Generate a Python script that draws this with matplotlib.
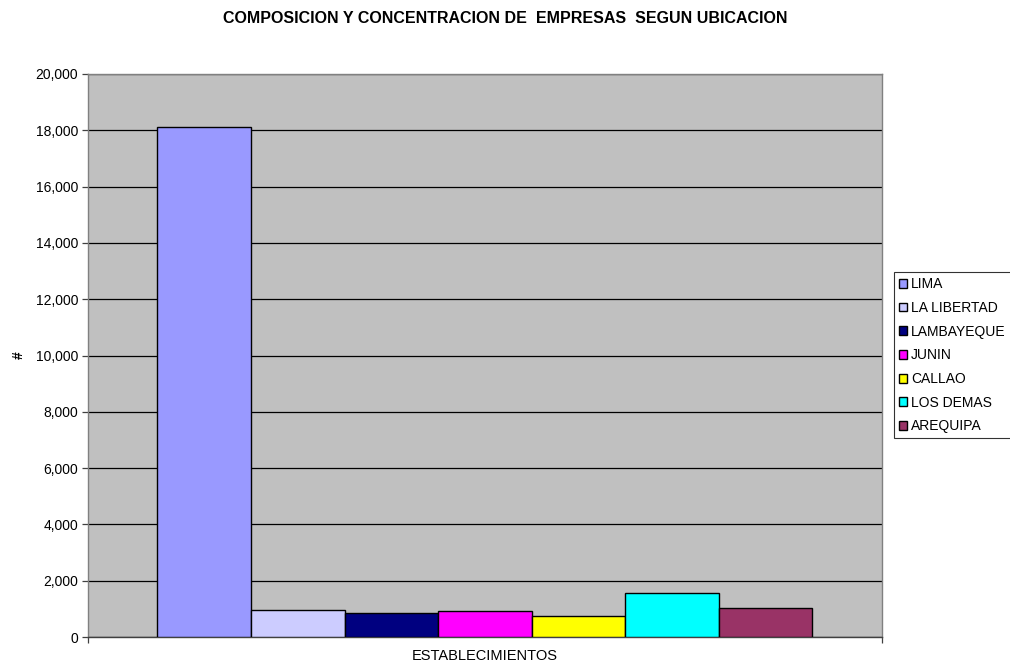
import numpy as np
import matplotlib.pyplot as plt
from matplotlib.ticker import FuncFormatter

plt.rcParams['font.family'] = ['Liberation Sans', 'DejaVu Sans']

regions = ["LIMA", "LA LIBERTAD", "LAMBAYEQUE", "JUNIN", "CALLAO", "LOS DEMAS", "AREQUIPA"]
counts = [18100, 950, 870, 920, 740, 1550, 1035]
colors = ["#9999ff", "#ccccff", "#000080", "#ff00ff", "#ffff00", "#00ffff", "#993366"]
category = "ESTABLECIMIENTOS"

fig = plt.figure(figsize=(10.1, 6.69), dpi=100)
ax = fig.add_axes([0.0871, 0.0478, 0.7861, 0.8416])
ax.set_facecolor("#c0c0c0")

group = 0.825
w = group / len(regions)
x0 = -group / 2 + w / 2
for i, (name, val, c) in enumerate(zip(regions, counts, colors)):
    ax.bar(x0 + i * w, val, width=w, color=c, edgecolor="black", linewidth=1.0,
           label=name, zorder=3)

ax.set_xlim(-0.5, 0.5)
ax.set_ylim(0, 20000)
ax.set_yticks(np.arange(0, 20001, 2000))
ax.yaxis.set_major_formatter(FuncFormatter(lambda v, p: f"{int(v):,}"))
ax.grid(axis="y", color="black", linewidth=0.9, zorder=1)
ax.set_xticks([-0.5, 0.5])
ax.set_xticklabels(["", ""])
ax.text(0, -0.022, category, transform=ax.get_xaxis_transform(), ha="center", va="top", fontsize=10.5)
ax.tick_params(axis="both", labelsize=10, length=4, width=0.9, color="#404040", pad=3)
for s in ax.spines.values():
    s.set_color("#808080")
    s.set_linewidth(1.0)
ax.spines["bottom"].set_color("#404040")
ax.set_ylabel("#", fontsize=10, fontweight="bold", rotation=90, labelpad=7)

fig.text(0.5, 0.972, "COMPOSICION Y CONCENTRACION DE  EMPRESAS  SEGUN UBICACION",
         ha="center", va="center", fontsize=11.5, fontweight="bold")

leg = fig.legend(loc="upper left", bbox_to_anchor=(0.885, 0.593), fontsize=10, frameon=True,
                 fancybox=False, edgecolor="black", handlelength=0.6, handleheight=0.6,
                 handletextpad=0.3, labelspacing=0.7, borderpad=0.35, borderaxespad=0)
leg.get_frame().set_linewidth(0.8)

fig.savefig("out.png", dpi=100)
